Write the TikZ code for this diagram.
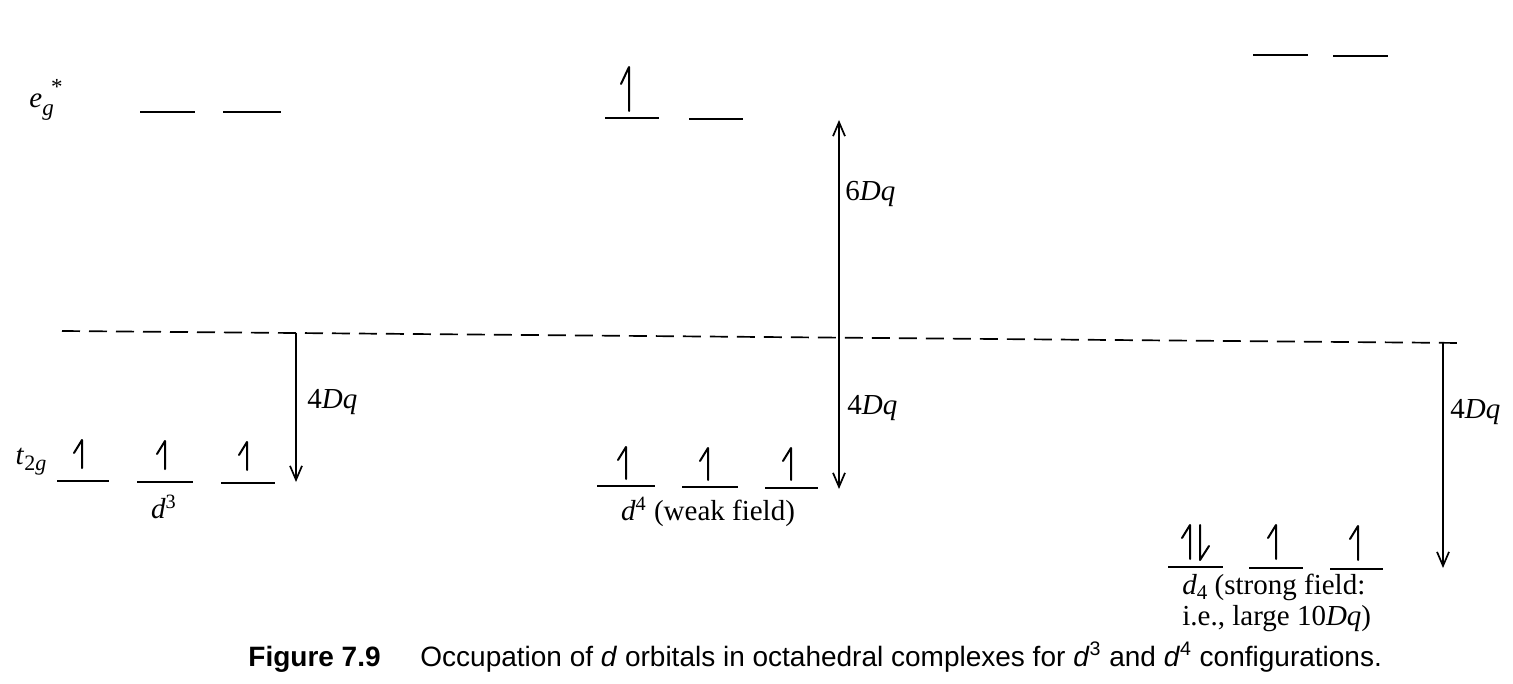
\documentclass[tikz,border=0pt]{standalone}
\usepackage{fontspec}
\setmainfont{Liberation Serif}
\newfontfamily\capfont{Liberation Sans}
\usetikzlibrary{arrows.meta}
\tikzset{
  lvl/.style={line width=1.35pt},
  spin/.style={line width=1pt, line cap=round, line join=round},
  gap/.style={-{Straight Barb[length=7pt,width=6pt]}, line width=0.85pt},
  gapboth/.style={{Straight Barb[length=7pt,width=6pt]}-{Straight Barb[length=7pt,width=6pt]}, line width=0.85pt},
  ref/.style={dash pattern=on 9pt off 4.5pt, line width=0.85pt},
  lbl/.style={font=\fontsize{14.5}{17}\selectfont, inner sep=0pt},
  captext/.style={font=\capfont\fontsize{14}{17}\selectfont, inner sep=0pt},
}
\newcommand\lev[3]{\draw[lvl] (#1,#3) -- (#2,#3);}
\newcommand\eup[4]{\draw[spin] (#1-8,#2+#4) -- (#1,#2) -- (#1,#3);}
\begin{document}
\begin{tikzpicture}[x=0.5pt,y=-0.5pt]
\useasboundingbox (0,0) rectangle (1513,684);

% labels
\node[lbl] (eg) at (46,100) {\textit{e}\rlap{\raisebox{-0.6ex}{\fontsize{11.5}{12}\selectfont\textit{g}}}\raisebox{1.0ex}{\hspace{0.3em}\fontsize{11.5}{12}\selectfont *}};
\node[lbl] (t2g) at (31,462) {\textit{t}\raisebox{-0.45ex}{\fontsize{11}{12}\selectfont 2\textit{g}}};

% reference (barycentre) line
\coordinate (refL) at (62,331);
\coordinate (refR) at (1462,343);
\draw[ref] (refL) -- (refR);

% ---------- d3 ----------
\lev{140}{195}{112}
\lev{223}{281}{112}
\lev{57}{109}{481}
\lev{137}{193}{482}
\lev{221}{275}{483}
\eup{82}{440}{468}{13}
\eup{165}{441}{469}{13}
\eup{247}{442}{470}{13}
\node[lbl] (d3) at (164,507) {\textit{d}\textsuperscript{3}};
\coordinate (a1t) at (296,333);
\coordinate (a1b) at (296,482);
\draw[gap] (a1t) -- (a1b);
\node[lbl, anchor=west] (q1) at (307,402) {4\textit{Dq}};

% ---------- d4 weak field ----------
\lev{605}{659}{118}
\lev{689}{743}{119}
\eup{629}{67}{111}{17}
\lev{597}{655}{486}
\lev{682}{738}{487}
\lev{765}{818}{488}
\eup{626}{447}{479}{13}
\eup{708}{448}{480}{13}
\eup{791}{448}{480}{13}
\node[lbl] (d4w) at (708,512) {\textit{d}\textsuperscript{4} (weak field)};
\coordinate (a2t) at (839,120);
\coordinate (a2b) at (839,489);
\draw[gapboth] (a2t) -- (a2b);
\node[lbl, anchor=west] (q6) at (845,194) {6\textit{Dq}};
\node[lbl, anchor=west] (q2) at (847,408) {4\textit{Dq}};

% ---------- d4 strong field ----------
\lev{1253}{1308}{55}
\lev{1333}{1388}{56}
\lev{1168}{1223}{567}
\lev{1249}{1303}{568}
\lev{1330}{1383}{569}
\eup{1190}{525}{559}{13}
\draw[spin] (1200,525) -- (1200,560) -- (1209,546);
\eup{1276}{525}{559}{13}
\eup{1358}{526}{560}{13}
\coordinate (a3t) at (1443,343);
\coordinate (a3b) at (1443,568);
\draw[gap] (a3t) -- (a3b);
\node[lbl, anchor=west] (q3) at (1450,412) {4\textit{Dq}};
\node[lbl, anchor=base west, text depth=0pt] (s1) at (1182,594)
  {\textit{d}\raisebox{-0.45ex}{\fontsize{10.5}{12}\selectfont 4} (strong field:};
\node[lbl, anchor=base west, text height=8.5pt] (s2) at (1182,625)
  {i.e., large 10\textit{Dq})};

% ---------- caption ----------
\node[captext, anchor=base west] (fig) at (248,666) {\bfseries Figure 7.9};
\node[captext, anchor=base west] (captxt) at (420,666) {Occupation of \textit{d} orbitals in octahedral complexes for \textit{d}\textsuperscript{3} and \textit{d}\textsuperscript{4} configurations.};
\end{tikzpicture}
\end{document}
